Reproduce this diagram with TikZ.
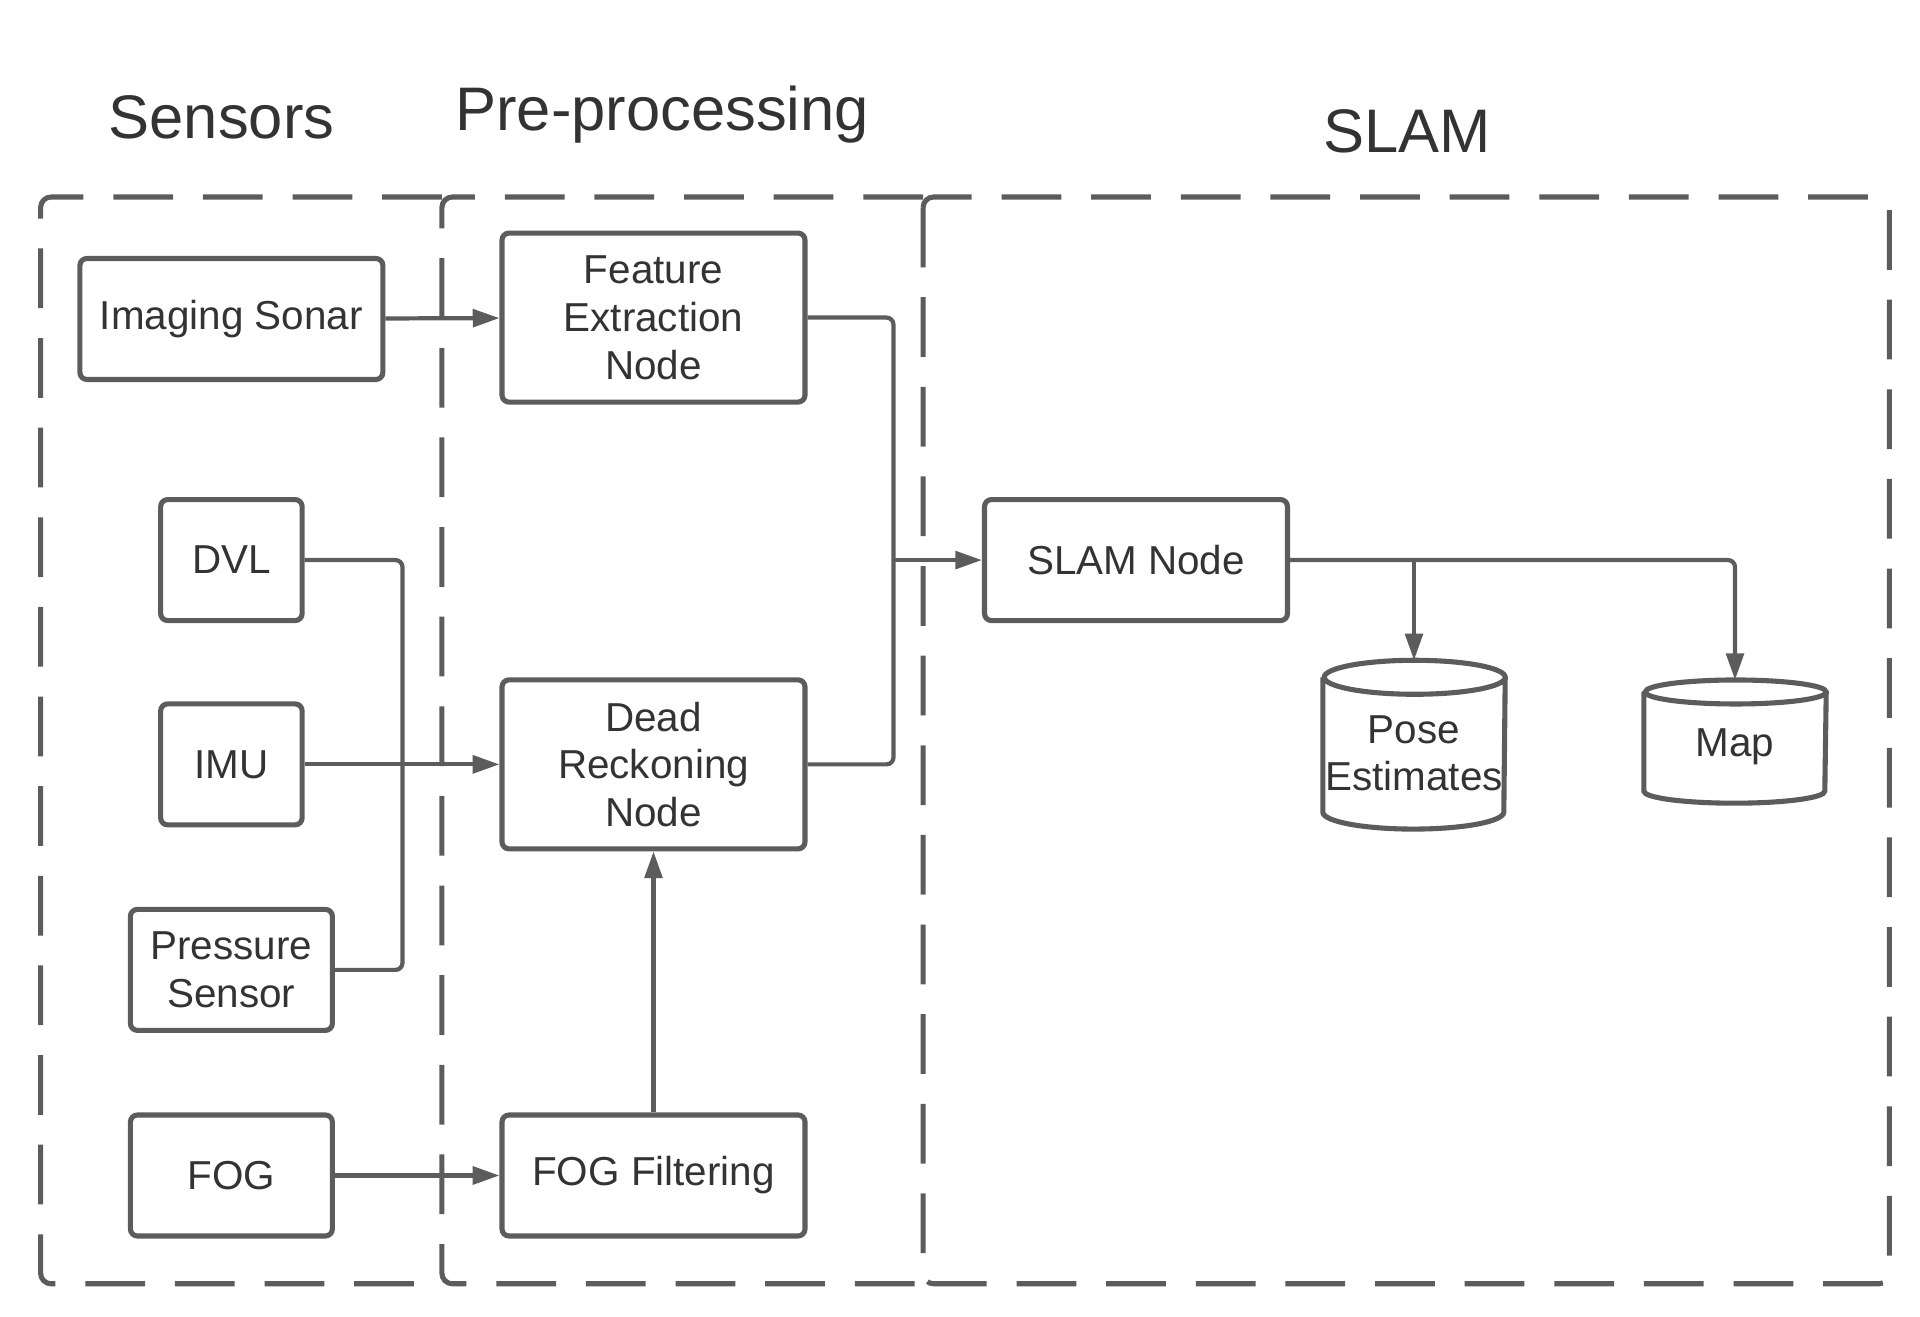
\documentclass[tikz,border=0pt]{standalone}
\usepackage{fontspec}
\setmainfont{Liberation Sans}
\usetikzlibrary{positioning}
\usetikzlibrary{arrows.meta}
\definecolor{linegray}{HTML}{5C5C5C}
\definecolor{textgray}{HTML}{333333}
\tikzset{basic/.style={draw=linegray,line width=1.45pt,text=textgray,font=\fontsize{11.5}{13.6}\selectfont,align=center,inner sep=0pt}}
\tikzset{block/.style={basic,rectangle,rounded corners=2pt,minimum width=3.03cm,minimum height=1.21cm}}
\tikzset{tallblock/.style={block,minimum height=1.69cm}}
\tikzset{sensor/.style={basic,rectangle,rounded corners=2pt,minimum height=1.21cm}}
\tikzset{store/.style={rectangle,inner sep=0pt,minimum width=1.81cm}}
\tikzset{storetext/.style={text=textgray,font=\fontsize{11.5}{13.6}\selectfont,align=center,inner sep=0pt}}
\tikzset{drum/.style={draw=linegray,line width=1.45pt}}
\tikzset{group/.style={draw=linegray,line width=1.45pt,dash pattern=on 17pt off 8.5pt,rounded corners=3pt}}
\tikzset{title/.style={text=textgray,font=\fontsize{17.5}{21}\selectfont}}
\tikzset{link/.style={draw=linegray,line width=1.2pt,-{Triangle[length=7.6pt,width=5pt]}}}
\tikzset{wire/.style={draw=linegray,line width=1.2pt,rounded corners=2pt}}

\begin{document}
\begin{tikzpicture}
        \useasboundingbox (0,0) rectangle (19.2,13.17);
        \draw[group] (4.419,11.2) -- (0.406,11.2) -- (0.406,0.332) -- (4.419,0.332);
        \draw[group] (9.231,11.2) -- (4.419,11.2) -- (4.419,0.332) -- (9.231,0.332);
        \draw[group] (9.231,11.2) -- (9.231,0.332) -- (18.893,0.332) -- (18.893,11.2) -- cycle;
        \node[title] (sensors) at (2.215,12.0) {Sensors};
        \node[title] (pre) at (6.622,12.02) {Pre-processing};
        \node[title] (slamtitle) at (14.07,11.86) {SLAM};
        % sensors
        \node[block] (sonar) at (2.314,9.98) {Imaging Sonar};
        \node[sensor,minimum width=1.415cm] (dvl) at (2.314,7.569) {DVL};
        \node[sensor,minimum width=1.415cm] (imu) at (2.314,5.526) {IMU};
        \node[sensor,minimum width=2.02cm] (pressure) at (2.314,3.471) {Pressure\\Sensor};
        \node[sensor,minimum width=2.02cm] (fog) at (2.314,1.415) {FOG};
        % pre-processing
        \node[tallblock] (feature) at (6.535,9.994) {Feature\\Extraction\\Node};
        \node[tallblock] (dr) at (6.535,5.526) {Dead\\Reckoning\\Node};
        \node[block] (fogfilter) at (6.535,1.415) {FOG Filtering};
        % slam
        \node[block] (slam) at (11.36,7.569) {SLAM Node};
        \node[store,minimum height=1.674cm,label={[storetext,yshift=-0.086cm]center:{Pose\\Estimates}}] (pose) at (14.14,5.723) {};
            \draw[drum] ([yshift=-0.17cm]pose.north west) -- ([yshift=0.17cm]pose.south west)
                arc[start angle=180,end angle=360,x radius=0.905cm,y radius=0.17cm]
                -- ([yshift=-0.17cm]pose.north east)
                arc[start angle=0,end angle=360,x radius=0.905cm,y radius=0.17cm];
        \node[store,minimum height=1.218cm,label={[storetext,yshift=-0.05cm]center:Map}] (map) at (17.35,5.754) {};
            \draw[drum] ([yshift=-0.12cm]map.north west) -- ([yshift=0.12cm]map.south west)
                arc[start angle=180,end angle=360,x radius=0.905cm,y radius=0.12cm]
                -- ([yshift=-0.12cm]map.north east)
                arc[start angle=0,end angle=360,x radius=0.905cm,y radius=0.12cm];
        \coordinate (merge) at (4.025,5.526);
        \coordinate (join) at (8.935,7.569);
        \coordinate (split) at (pose.north |- slam.east);
            \path[link] (sonar) -- (feature);
            \path[link] (imu) -- (dr);
            \path[wire] (dvl.east) -| (merge);
            \path[wire] (pressure.east) -| (merge);
            \path[link] (fog) -- (fogfilter);
            \path[link] (fogfilter) -- (dr);
            \path[wire] (feature.east) -| (join);
            \path[wire] (dr.east) -| (join);
            \path[link] (join) -- (slam);
            \path[link,rounded corners=2pt] (slam.east) -| (map.north);
            \path[link] (split) -- (pose.north);
    \end{tikzpicture}
\end{document}
